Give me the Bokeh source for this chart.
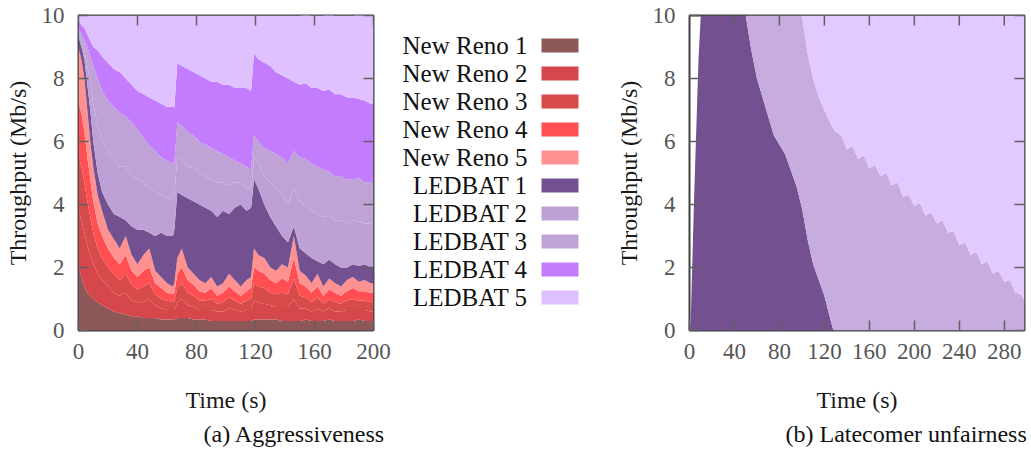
import math
from bokeh.plotting import figure
from bokeh.layouts import row
from bokeh.models import Range1d, FixedTicker, ColumnDataSource, Title
from bokeh.embed import file_html
from bokeh.resources import INLINE
from bokeh.core.properties import value

FONT = "Liberation Serif"

# ---------------- (a) Aggressiveness: time (s) and per-flow throughput (Mb/s)
time_a = [0, 2, 4, 6, 8, 10, 13, 16, 20, 24, 28, 32, 36, 40, 44, 48, 52, 56, 60, 64,
          65, 67, 70, 74, 78, 82, 86, 90, 94, 98, 102, 106, 110, 114, 117, 119, 122, 126, 130, 134,
          138, 142, 146, 150, 154, 158, 162, 166, 170, 174, 178, 182, 186, 190, 194, 198, 200]

new_reno_1 = [2.0, 1.7, 1.4, 1.2, 1.1, 1.0, 0.9, 0.8, 0.7, 0.6, 0.55, 0.5, 0.45, 0.45, 0.4, 0.4, 0.4, 0.35, 0.35, 0.35,
              0.35, 0.4, 0.4, 0.4, 0.35, 0.35, 0.35, 0.3, 0.3, 0.3, 0.3, 0.3, 0.3, 0.3, 0.3, 0.35, 0.35, 0.35, 0.35, 0.35,
              0.3, 0.3, 0.3, 0.3, 0.35, 0.3, 0.3, 0.3, 0.35, 0.3, 0.3, 0.3, 0.3, 0.35, 0.3, 0.3, 0.3]
new_reno_2 = [1.8, 1.8, 1.7, 1.5, 1.3, 1.1, 0.9, 0.8, 0.7, 0.6, 0.55, 0.7, 0.5, 0.45, 0.5, 0.6, 0.4, 0.35, 0.3, 0.3,
              0.3, 0.5, 0.6, 0.4, 0.4, 0.3, 0.3, 0.35, 0.3, 0.3, 0.4, 0.35, 0.3, 0.35, 0.35, 0.6, 0.55, 0.5, 0.45, 0.4,
              0.45, 0.45, 0.7, 0.4, 0.35, 0.3, 0.4, 0.3, 0.35, 0.3, 0.3, 0.35, 0.35, 0.3, 0.35, 0.3, 0.3]
new_reno_3 = [1.7, 1.7, 1.6, 1.4, 1.2, 1.0, 0.8, 0.7, 0.6, 0.6, 0.5, 0.6, 0.5, 0.4, 0.5, 0.5, 0.35, 0.3, 0.3, 0.25,
              0.3, 0.45, 0.5, 0.4, 0.35, 0.3, 0.3, 0.35, 0.25, 0.3, 0.35, 0.3, 0.25, 0.3, 0.35, 0.55, 0.5, 0.5, 0.4, 0.4,
              0.45, 0.4, 0.65, 0.4, 0.35, 0.3, 0.35, 0.25, 0.3, 0.3, 0.25, 0.3, 0.35, 0.3, 0.3, 0.3, 0.3]
new_reno_4 = [1.7, 1.7, 1.6, 1.4, 1.2, 1.0, 0.8, 0.7, 0.6, 0.5, 0.5, 0.6, 0.45, 0.4, 0.5, 0.5, 0.35, 0.35, 0.25, 0.25,
              0.25, 0.45, 0.5, 0.4, 0.35, 0.3, 0.25, 0.35, 0.25, 0.3, 0.35, 0.3, 0.25, 0.3, 0.35, 0.5, 0.5, 0.45, 0.4, 0.35,
              0.45, 0.4, 0.65, 0.4, 0.35, 0.3, 0.35, 0.25, 0.3, 0.3, 0.25, 0.3, 0.35, 0.3, 0.3, 0.3, 0.3]
new_reno_5 = [1.8, 1.7, 1.7, 1.5, 1.2, 1.1, 0.9, 0.8, 0.6, 0.6, 0.5, 0.6, 0.5, 0.4, 0.5, 0.6, 0.4, 0.35, 0.3, 0.25,
              0.3, 0.5, 0.6, 0.4, 0.35, 0.35, 0.3, 0.35, 0.3, 0.3, 0.4, 0.35, 0.3, 0.35, 0.35, 0.6, 0.5, 0.5, 0.4, 0.4,
              0.45, 0.45, 0.7, 0.4, 0.35, 0.3, 0.4, 0.3, 0.35, 0.3, 0.3, 0.35, 0.35, 0.3, 0.35, 0.3, 0.3]
ledbat_1 = [0.3, 0.4, 0.6, 0.8, 1.0, 0.8, 0.7, 0.6, 0.8, 0.8, 1.0, 0.5, 0.9, 1.1, 0.8, 0.5, 1.1, 1.4, 1.5, 1.6,
            1.7, 2.1, 1.7, 2.2, 2.3, 2.4, 2.4, 2.1, 2.2, 2.3, 1.9, 2.3, 2.6, 2.2, 2.2, 2.2, 2.1, 1.7, 1.6, 1.4,
            0.9, 0.8, 0.3, 0.7, 0.7, 0.8, 0.4, 0.7, 0.6, 0.6, 0.6, 0.4, 0.4, 0.5, 0.5, 0.5, 0.5]
ledbat_2 = [0.15, 0.2, 0.3, 0.6, 0.9, 1.2, 1.5, 1.6, 1.7, 1.7, 1.6, 1.7, 1.6, 1.6, 1.5, 1.4, 1.4, 1.2, 1.2, 1.2,
            1.1, 1.1, 1.1, 1.0, 1.1, 1.0, 1.0, 1.0, 1.1, 0.9, 0.9, 0.8, 0.7, 0.7, 0.6, 0.7, 0.8, 0.9, 1.1, 1.2,
            1.3, 1.2, 1.2, 1.5, 1.5, 1.5, 1.5, 1.5, 1.4, 1.4, 1.5, 1.4, 1.4, 1.4, 1.3, 1.4, 1.3]
ledbat_3 = [0.15, 0.2, 0.3, 0.6, 0.8, 1.2, 1.5, 1.6, 1.6, 1.7, 1.7, 1.6, 1.7, 1.6, 1.4, 1.4, 1.3, 1.2, 1.2, 1.1,
            1.0, 1.1, 1.1, 1.1, 1.0, 1.0, 1.0, 1.0, 1.0, 0.9, 0.9, 0.7, 0.6, 0.7, 0.6, 0.7, 0.7, 0.9, 1.0, 1.1,
            1.2, 1.3, 1.2, 1.4, 1.5, 1.5, 1.5, 1.5, 1.4, 1.4, 1.4, 1.4, 1.3, 1.4, 1.3, 1.3, 1.4]
ledbat_4 = [0.2, 0.3, 0.4, 0.4, 0.5, 0.6, 0.9, 1.1, 1.2, 1.2, 1.3, 1.2, 1.2, 1.2, 1.4, 1.5, 1.6, 1.7, 1.7, 1.8,
            1.8, 1.9, 1.9, 2.0, 2.0, 2.1, 2.1, 2.1, 2.2, 2.2, 2.3, 2.3, 2.4, 2.5, 2.5, 2.6, 2.6, 2.7, 2.7, 2.6,
            2.6, 2.7, 2.2, 2.3, 2.4, 2.4, 2.5, 2.5, 2.6, 2.6, 2.6, 2.6, 2.6, 2.5, 2.6, 2.5, 2.5]
ledbat_5 = [0.2, 0.3, 0.4, 0.6, 0.8, 1.0, 1.1, 1.3, 1.5, 1.7, 1.8, 2.0, 2.2, 2.4, 2.5, 2.6, 2.7, 2.8, 2.9, 2.9,
            2.9, 1.5, 1.6, 1.7, 1.8, 1.9, 2.0, 2.1, 2.1, 2.2, 2.2, 2.3, 2.3, 2.3, 2.4, 1.2, 1.4, 1.5, 1.6, 1.8,
            1.9, 2.0, 2.1, 2.2, 2.2, 2.3, 2.3, 2.4, 2.4, 2.5, 2.5, 2.6, 2.6, 2.7, 2.7, 2.8, 2.8]

names_a = ["New Reno 1", "New Reno 2", "New Reno 3", "New Reno 4", "New Reno 5",
           "LEDBAT 1", "LEDBAT 2", "LEDBAT 3", "LEDBAT 4", "LEDBAT 5"]
series_a = [new_reno_1, new_reno_2, new_reno_3, new_reno_4, new_reno_5,
            ledbat_1, ledbat_2, ledbat_3, ledbat_4, ledbat_5]
colors_a = ["#8f5858", "#d6474b", "#d84b4b", "#ff4f52", "#ff9191",
            "#73508f", "#bda0d5", "#bfa2d6", "#c47cfe", "#e0c1ff"]

x_ticks_a = [0, 40, 80, 120, 160, 200]
y_ticks = [0, 2, 4, 6, 8, 10]

# ---------------- (b) Latecomer unfairness
time_b = [0, 1, 4, 8, 10, 20, 30, 40, 50, 55, 60, 65, 70, 75, 80, 85, 90, 95, 100,
          105, 110, 115, 120, 125, 128,
          130, 135, 140, 145, 150, 155, 160, 165, 170, 175, 180, 185, 190, 195, 200, 205, 210,
          215, 220, 225, 230, 235, 240, 245, 250, 255, 260, 265, 270, 275, 280, 285, 290, 295, 298]
latecomer_1 = [0, 0.2, 4.1, 8.6, 10, 10, 10, 10, 10, 8.9, 8.0, 7.4, 6.8, 6.2, 5.9, 5.6, 5.1, 4.6, 3.9,
               2.9, 2.1, 1.6, 1.1, 0.4, 0,
               0, 0, 0, 0, 0, 0, 0, 0, 0, 0, 0, 0, 0, 0, 0, 0, 0,
               0, 0, 0, 0, 0, 0, 0, 0, 0, 0, 0, 0, 0, 0, 0, 0, 0, 0]
latecomer_2 = [0, 0, 0, 0, 0, 0, 0, 0, 0, 1.1, 2.0, 2.6, 3.2, 3.8, 4.1, 4.4, 4.9, 5.4, 6.1,
               5.9, 5.9, 5.8, 5.9, 6.2, 6.4,
               6.3, 6.2, 5.75, 5.85, 5.45, 5.55, 5.15, 5.25, 4.9, 5.0, 4.6, 4.7, 4.25, 4.3, 3.95, 4.05, 3.65,
               3.75, 3.4, 3.5, 3.1, 3.15, 2.7, 2.8, 2.4, 2.5, 2.1, 2.2, 1.8, 1.9, 1.55, 1.6, 1.2, 1.15, 0.9]
latecomer_3 = [0, 0, 0, 0, 0, 0, 0, 0, 0, 0, 0, 0, 0, 0, 0, 0, 0, 0, 0,
               1.2, 2.0, 2.6, 3.0, 3.4, 3.6,
               3.7, 3.8, 4.25, 4.15, 4.55, 4.45, 4.85, 4.75, 5.1, 5.0, 5.4, 5.3, 5.75, 5.7, 6.05, 5.95, 6.35,
               6.25, 6.6, 6.5, 6.9, 6.85, 7.3, 7.2, 7.6, 7.5, 7.9, 7.8, 8.2, 8.1, 8.45, 8.4, 8.8, 8.85, 9.1]
names_b = ["LEDBAT 1", "LEDBAT 2", "LEDBAT 3"]
series_b = [latecomer_1, latecomer_2, latecomer_3]
colors_b = ["#73508f", "#c6acdf", "#e2c9ff"]
x_ticks_b = [0, 40, 80, 120, 160, 200, 240, 280]

caption_a = "(a) Aggressiveness"
caption_b = "(b) Latecomer unfairness"


def style_panel(p, xticks, yticks, xmax, caption, cap_offset):
    p.xgrid.visible = False
    p.ygrid.visible = False
    p.outline_line_color = "#404040"
    p.outline_line_width = 2
    p.background_fill_color = "white"
    p.border_fill_color = "white"
    p.xaxis.ticker = FixedTicker(ticks=xticks)
    p.yaxis.ticker = FixedTicker(ticks=yticks)
    for ax in (p.xaxis[0], p.yaxis[0]):
        ax.axis_line_color = None
        ax.major_tick_in = 10
        ax.major_tick_out = 0
        ax.major_tick_line_color = "#606060"
        ax.major_tick_line_width = 1.5
        ax.minor_tick_line_color = None
        ax.major_label_text_font = FONT
        ax.major_label_text_font_size = "23px"
        ax.major_label_text_color = "#555555"
        ax.axis_label_text_font = FONT
        ax.axis_label_text_font_size = "24px"
        ax.axis_label_text_font_style = "normal"
        ax.axis_label_text_color = "#1a1a1a"
    p.xaxis.major_label_standoff = 13
    p.xaxis.axis_label_standoff = 25
    p.yaxis.major_label_standoff = 14
    p.yaxis.axis_label_standoff = 8
    p.xaxis.axis_label = "Time (s)"
    p.yaxis.axis_label = "Throughput (Mb/s)"
    # mirrored tick marks on the top and right edges (gnuplot style)
    p.ray(x=xticks, y=[yticks[-1]] * len(xticks), length=10, length_units="screen",
          angle=-math.pi / 2, line_color="#606060", line_width=1.5)
    p.ray(x=[xmax] * len(yticks), y=yticks, length=10, length_units="screen",
          angle=math.pi, line_color="#606060", line_width=1.5)
    cap = Title(text=caption, align="left", offset=cap_offset, standoff=6,
                text_font=FONT, text_font_size="24px", text_font_style="normal",
                text_color="#111111")
    p.add_layout(cap, "below")


# ---- panel (a)
src_a = ColumnDataSource(dict(t=time_a, **{n: s for n, s in zip(names_a, series_a)}))
pa = figure(width=393, height=452, x_range=Range1d(0, 200), y_range=Range1d(0, 10),
            toolbar_location=None, output_backend="svg", title=None,
            min_border_left=78, min_border_right=20, min_border_top=15, min_border_bottom=122)
pa.varea_stack(stackers=names_a, x="t", color=colors_a, source=src_a)
style_panel(pa, x_ticks_a, y_ticks, 200, caption_a, 125)

# ---- legend of panel (a): labels on the left, colour swatches on the right
leg = figure(width=207, height=452, x_range=Range1d(393, 600), y_range=Range1d(330, 15),
             toolbar_location=None, output_backend="svg", x_axis_type=None, y_axis_type=None,
             title=None, min_border_left=0, min_border_right=0, min_border_top=15,
             min_border_bottom=122)
leg.grid.visible = False
leg.outline_line_color = None
leg.background_fill_color = "white"
leg_y = [45 + 28 * i for i in range(len(names_a))]
leg_src = ColumnDataSource(dict(y=leg_y, name=names_a, color=colors_a))
leg.text(x=527, y="y", text="name", source=leg_src, text_align="right", text_baseline="middle",
         text_font=value(FONT), text_font_size="25px", text_color="#111111")
leg.rect(x=559.5, y="y", width=37, height=14, width_units="screen", height_units="screen",
         fill_color="color", line_color=None, source=leg_src)

# ---- panel (b)
src_b = ColumnDataSource(dict(t=time_b, **{n: s for n, s in zip(names_b, series_b)}))
pb = figure(width=431, height=452, x_range=Range1d(0, 298), y_range=Range1d(0, 10),
            toolbar_location=None, output_backend="svg", title=None,
            min_border_left=89, min_border_right=7, min_border_top=15, min_border_bottom=122)
pb.varea_stack(stackers=names_b, x="t", color=colors_b, source=src_b)
style_panel(pb, x_ticks_b, y_ticks, 298, caption_b, 96)

layout = row(pa, leg, pb)
open("out.html", "w").write(file_html(layout, INLINE))
